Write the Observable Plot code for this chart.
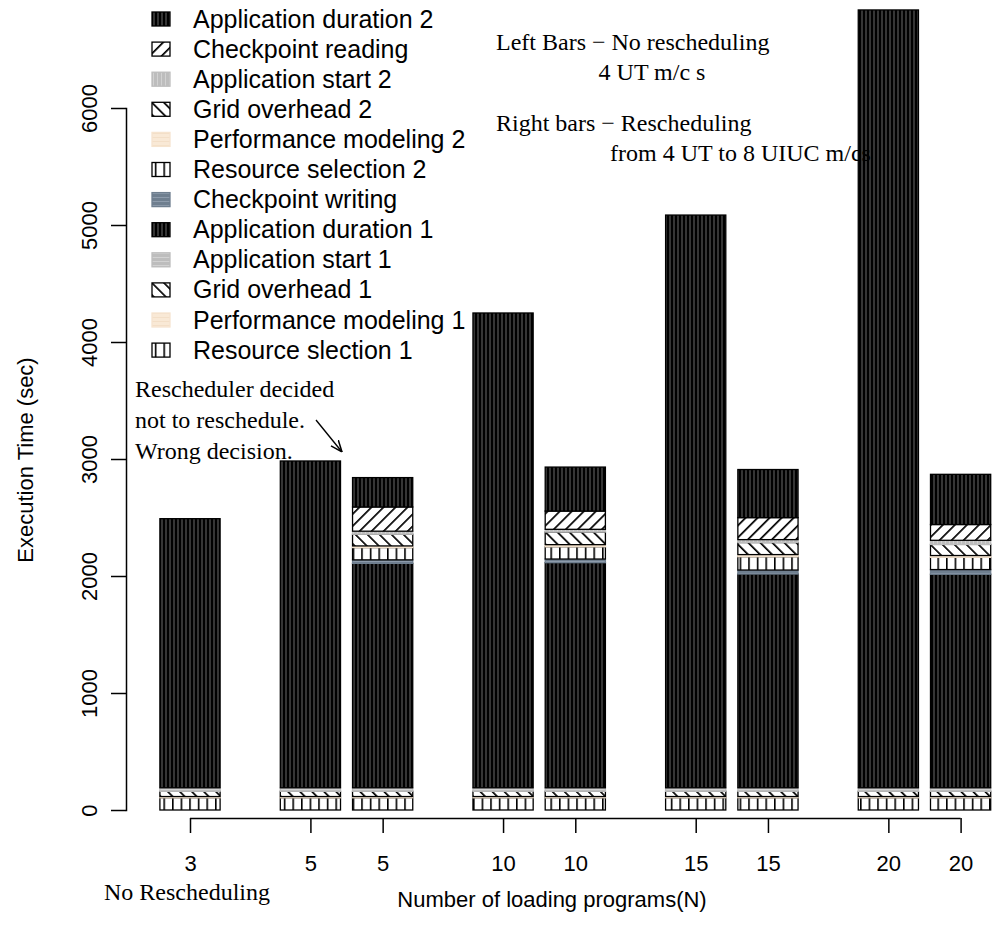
<!DOCTYPE html>
<html><head><meta charset="utf-8">
<script src="https://cdn.jsdelivr.net/npm/d3@7"></script>
<script src="https://cdn.jsdelivr.net/npm/@observablehq/plot@0.6"></script>
<style>body{margin:0;background:#fff} svg{display:block}</style>
</head><body><div id="chart"></div>
<script>
// ---- data ----
const nLabels = [3, 5, 5, 10, 10, 15, 15, 20, 20];
const rescheduled = [false, false, true, false, true, false, true, false, true];
// components, bottom -> top of each bar (seconds)
const resourceSel1  = [105, 105, 105, 105, 105, 105, 105, 105, 105];
const perfModel1    = [10, 10, 10, 10, 10, 10, 10, 10, 10];
const gridOverhead1 = [45, 45, 45, 45, 45, 45, 45, 45, 45];
const appStart1     = [30, 30, 30, 30, 30, 30, 30, 30, 30];
const appDuration1  = [2300, 2793, 1918, 4058, 1924, 4895, 1827, 6648, 1825];
const ckptWriting   = [0, 0, 30, 0, 31, 0, 34, 0, 40];
const resourceSel2  = [0, 0, 105, 0, 105, 0, 114, 0, 105];
const perfModel2    = [0, 0, 14, 0, 18, 0, 18, 0, 15];
const gridOverhead2 = [0, 0, 100, 0, 108, 0, 103, 0, 95];
const appStart2     = [0, 0, 26, 0, 23, 0, 25, 0, 35];
const ckptReading   = [0, 0, 207, 0, 156, 0, 188, 0, 135];
const appDuration2  = [0, 0, 251, 0, 376, 0, 411, 0, 429];
const yTicks = [0, 1000, 2000, 3000, 4000, 5000, 6000];

// component styling (bottom -> top)
const components = [
  {name: "Resource slection 1",    values: resourceSel1,  fill: "url(#p-rs)", stroke: "#000"},
  {name: "Performance modeling 1", values: perfModel1,    fill: "url(#p-pm)", stroke: "#f6e4cf"},
  {name: "Grid overhead 1",        values: gridOverhead1, fill: "url(#p-go)", stroke: "#000"},
  {name: "Application start 1",    values: appStart1,     fill: "url(#p-as1)", stroke: "#bdbdbd"},
  {name: "Application duration 1", values: appDuration1,  fill: "url(#p-ad)", stroke: "#000"},
  {name: "Checkpoint writing",     values: ckptWriting,   fill: "url(#p-cw)", stroke: "#6f7f8f"},
  {name: "Resource selection 2",   values: resourceSel2,  fill: "url(#p-rs)", stroke: "#000"},
  {name: "Performance modeling 2", values: perfModel2,    fill: "url(#p-pm)", stroke: "#f6e4cf"},
  {name: "Grid overhead 2",        values: gridOverhead2, fill: "url(#p-go)", stroke: "#000"},
  {name: "Application start 2",    values: appStart2,     fill: "url(#p-as2)", stroke: "#bdbdbd"},
  {name: "Checkpoint reading",     values: ckptReading,   fill: "url(#p-cr)", stroke: "#000"},
  {name: "Application duration 2", values: appDuration2,  fill: "url(#p-ad)", stroke: "#000"}
];

// bar layout like R barplot(width=1, space=0.2 before rescheduled bars, 1 otherwise)
const centers = [];
nLabels.forEach((n, i) => {
  if (i === 0) centers.push(0);
  else centers.push(centers[i - 1] + 1 + (rescheduled[i] ? 0.2 : 1));
});
const labelByPos = new Map(centers.map((c, i) => [c, nLabels[i]]));

// stacked rows
const rows = components.map(() => []);
nLabels.forEach((n, i) => {
  let acc = 0;
  components.forEach((c, k) => {
    const v = c.values[i];
    if (v > 0) rows[k].push({x1: centers[i] - 0.5, x2: centers[i] + 0.5, y1: acc, y2: acc + v});
    acc += v;
  });
});

const sans = "'Liberation Sans', Arial, Helvetica, sans-serif";
const serif = "'Liberation Serif', 'Times New Roman', serif";

const plot = Plot.plot({
  width: 992, height: 942,
  marginLeft: 126, marginRight: 31, marginTop: 108, marginBottom: 124,
  x: {type: "linear", domain: [0, centers[centers.length - 1]], range: [190, 960.6]},
  y: {domain: [0, 6000], range: [810, 108]},
  style: {fontFamily: sans, fontSize: "22px", background: "#fff", color: "#000", overflow: "visible"},
  marks: [
    ...components.map((c, k) => Plot.rectY(rows[k], {x1: "x1", x2: "x2", y1: "y1", y2: "y2", fill: c.fill, stroke: c.stroke, strokeWidth: 1.3})),
    Plot.frame({anchor: "left", insetBottom: 8, strokeWidth: 1.5}),
    Plot.ruleY([0], {x1: centers[0], x2: centers[centers.length - 1], dy: 8, strokeWidth: 1.5}),
    Plot.axisY({ticks: yTicks, tickSize: 15, tickPadding: 15, tickRotate: -90, fontSize: 22, label: null, strokeWidth: 1.5, tickFormat: d => String(d)}),
    Plot.axisX({ticks: centers, tickSize: 15, tickPadding: 22, fontSize: 22, label: null, strokeWidth: 1.5, tickFormat: d => String(labelByPos.get(d))})
  ]
});

// patterns
const svg = d3.select(plot);
svg.insert("defs", ":first-child").html(`
<pattern id="p-ad" patternUnits="userSpaceOnUse" width="4" height="4"><rect width="4" height="4" fill="#000"/><rect x="1.5" width="1" height="4" fill="#6a6a6a"/></pattern>
<pattern id="p-cr" patternUnits="userSpaceOnUse" width="8.5" height="8.5" patternTransform="rotate(45)"><rect width="8.5" height="8.5" fill="#fff"/><rect width="1.7" height="8.5" fill="#000"/></pattern>
<pattern id="p-go" patternUnits="userSpaceOnUse" width="8.5" height="8.5" patternTransform="rotate(-45)"><rect width="8.5" height="8.5" fill="#fff"/><rect width="1.7" height="8.5" fill="#000"/></pattern>
<pattern id="p-rs" patternUnits="userSpaceOnUse" width="8.6" height="8.6"><rect width="8.6" height="8.6" fill="#fff"/><rect width="1.6" height="8.6" fill="#000"/></pattern>
<pattern id="p-pm" patternUnits="userSpaceOnUse" width="4" height="4"><rect width="4" height="4" fill="#f9e9d6"/><rect y="1" width="4" height="1" fill="#f3dfc8"/></pattern>
<pattern id="p-as1" patternUnits="userSpaceOnUse" width="4" height="4"><rect width="4" height="4" fill="#bdbdbd"/><rect y="1" width="4" height="1" fill="#d2d2d2"/></pattern>
<pattern id="p-as2" patternUnits="userSpaceOnUse" width="4" height="4"><rect width="4" height="4" fill="#bdbdbd"/><rect x="1" width="1" height="4" fill="#d2d2d2"/></pattern>
<pattern id="p-cw" patternUnits="userSpaceOnUse" width="4" height="4"><rect width="4" height="4" fill="#6f7f8f"/><rect y="1" width="4" height="1" fill="#8d9bab"/></pattern>
<marker id="arrowhead" viewBox="0 0 10 10" refX="10" refY="5" markerWidth="9" markerHeight="9" orient="auto"><path d="M0,1 L10,5 L0,9" fill="none" stroke="#000" stroke-width="1.3"/></marker>
`);

// legend (top -> bottom)
const legend = components.slice().reverse();
const lg = svg.append("g").attr("font-family", sans).attr("font-size", 25).attr("text-anchor", "start");
legend.forEach((c, i) => {
  const cy = 19 + 30.1 * i;
  lg.append("rect").attr("x", 152).attr("y", cy - 7).attr("width", 18).attr("height", 14)
    .attr("fill", c.fill).attr("stroke", c.stroke).attr("stroke-width", 1.3);
  lg.append("text").attr("x", 193).attr("y", cy + 8.5).text(c.name);
});

// annotations
const an = svg.append("g").attr("font-family", serif).attr("font-size", 24).attr("fill", "#000").attr("text-anchor", "start");
an.append("text").attr("x", 496).attr("y", 50).text("Left Bars \u2212 No rescheduling");
an.append("text").attr("x", 652).attr("y", 80).attr("text-anchor", "middle").text("4 UT m/c s");
an.append("text").attr("x", 496).attr("y", 131).text("Right bars \u2212 Rescheduling");
an.append("text").attr("x", 610).attr("y", 161).text("from 4 UT to 8 UIUC m/cs");
an.append("text").attr("x", 135).attr("y", 397).text("Rescheduler decided");
an.append("text").attr("x", 135).attr("y", 428).text("not to reschedule.");
an.append("text").attr("x", 135).attr("y", 459).text("Wrong decision.");
an.append("text").attr("x", 187).attr("y", 900).attr("text-anchor", "middle").text("No Rescheduling");
svg.append("line").attr("x1", 316).attr("y1", 420).attr("x2", 342).attr("y2", 452)
  .attr("stroke", "#000").attr("stroke-width", 1.3).attr("marker-end", "url(#arrowhead)");

// axis titles
svg.append("text").attr("x", 552).attr("y", 907).attr("text-anchor", "middle")
  .attr("font-family", sans).attr("font-size", 22).text("Number of loading programs(N)");
svg.append("text").attr("transform", "translate(33,460) rotate(-90)").attr("text-anchor", "middle")
  .attr("font-family", sans).attr("font-size", 22).text("Execution Time (sec)");

document.getElementById("chart").appendChild(plot);
</script>
</body></html>
